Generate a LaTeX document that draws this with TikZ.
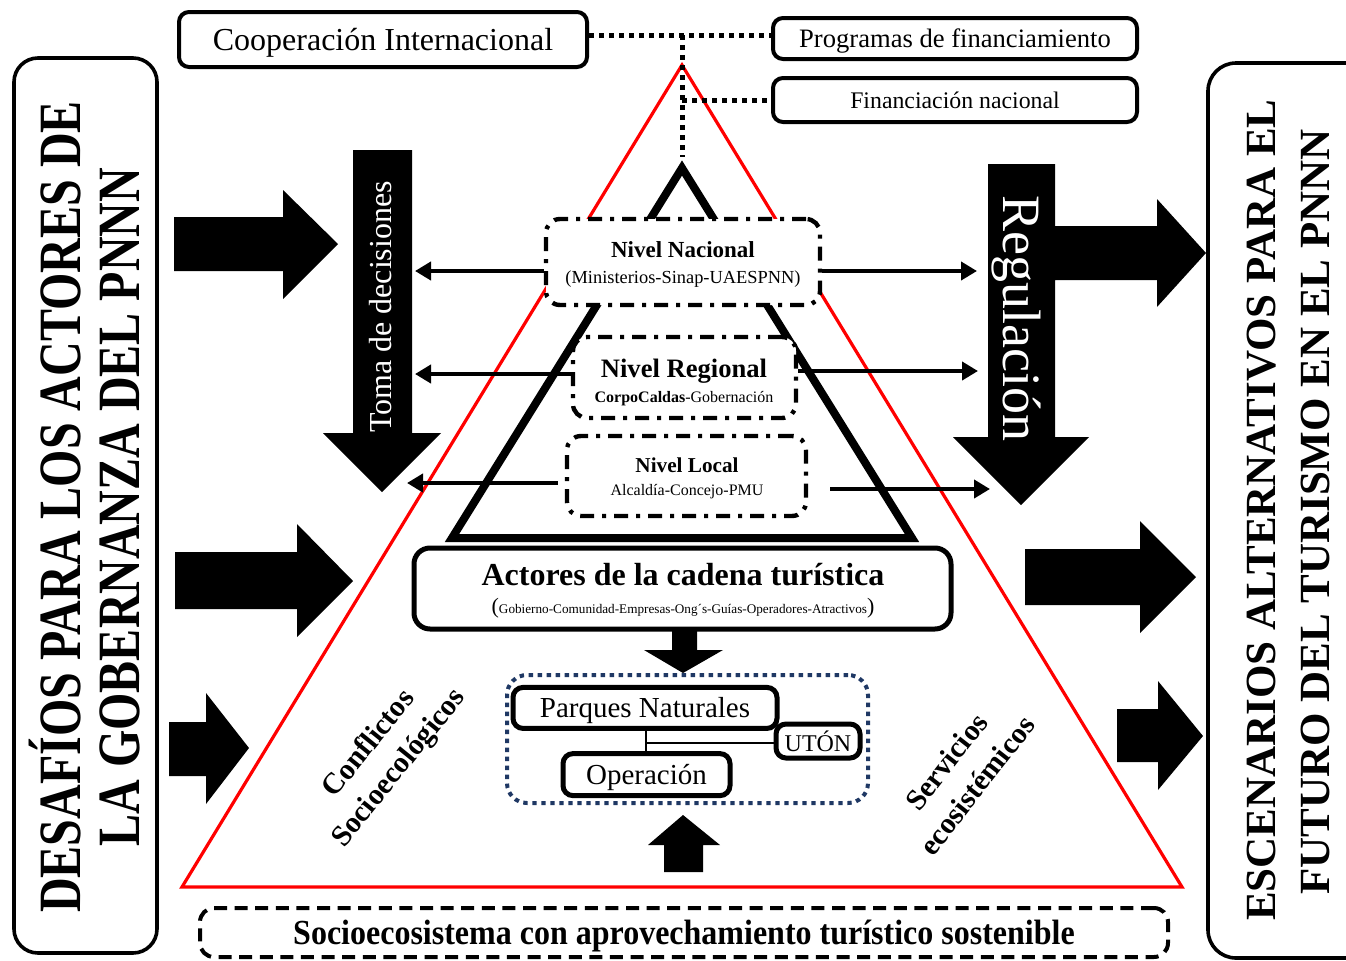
\documentclass[tikz,border=0pt]{standalone}
\usepackage{fontspec}
\setmainfont{Liberation Serif}
\usetikzlibrary{arrows.meta}
\definecolor{navy}{RGB}{31,56,100}
\newcommand\myfs[1]{\fontsize{#1}{#1}\selectfont}

\begin{document}
\begin{tikzpicture}[x=0.5pt,y=-0.5pt,
  box/.style={draw, line width=2pt, rounded corners=5pt, fill=white, inner sep=0pt, text depth=0pt},
  lvl/.style={draw, line width=2.2pt, rounded corners=7pt, fill=white, inner sep=0pt,
              dash pattern=on 7pt off 4pt on 2pt off 4pt},
  dotline/.style={line width=2.5pt, dash pattern=on 2.5pt off 2.5pt},
  harrow/.style={line width=2.3pt, -{Triangle[length=8pt,width=9pt]}},
  frame/.style={draw, line width=1.8pt, inner sep=0pt},
  diag/.style={align=center, inner sep=0pt, font=\bfseries\fontsize{14.8}{19.3}\selectfont},
]
\clip (0,0) rectangle (1346,960);
\fill[white] (0,0) rectangle (1346,960);

% outer red triangle and inner black pyramid
\draw[red, line width=1.6pt, line join=miter] (682,65) -- (1182,887) -- (182,887) -- cycle;
\draw[line width=4pt, line join=miter] (682,168) -- (912,538) -- (452,538) -- cycle;

% block arrows on the left
\fill (174,217) -- (283,217) -- (283,190) -- (338,244) -- (283,299) -- (283,271) -- (174,271) -- cycle;
\fill (175,552) -- (297,552) -- (297,524) -- (353,581) -- (297,637) -- (297,609) -- (175,609) -- cycle;
\fill (169,722) -- (206,722) -- (206,693) -- (249,748) -- (206,804) -- (206,776) -- (169,776) -- cycle;
% block arrows on the right
\fill (1025,549) -- (1140,549) -- (1140,521) -- (1196,577) -- (1140,633) -- (1140,605) -- (1025,605) -- cycle;
\fill (1117,709) -- (1158,709) -- (1158,681) -- (1203,736) -- (1158,790) -- (1158,762) -- (1117,762) -- cycle;

% decision making (downward) arrow
\fill (353,150) -- (412,150) -- (412,433) -- (441,433) -- (382,492) -- (323,433) -- (353,433) -- cycle;
\node[rotate=90, text=white, font=\myfs{16}] (toma) at (381,307) {Toma de decisiones};

% regulation arrow with its branch to the right
\fill (988,164) -- (1055,164) -- (1055,226) -- (1157,226) -- (1157,199) -- (1206,253)
  -- (1157,307) -- (1157,280) -- (1055,280) -- (1055,437) -- (1089,437) -- (1021,505)
  -- (953,437) -- (988,437) -- cycle;
\node[rotate=-90, text=white, font=\myfs{27}] (regul) at (1016,318) {Regulación};

% funding boxes
\node[box, minimum width=204pt, minimum height=27.5pt, font=\myfs{16}] (coop) at (383,39.5) {Cooperación Internacional};
\node[box, minimum width=182pt, minimum height=20.5pt, font=\myfs{13.3}, yshift=-0.5pt] (prog) at (955,37.5) {Programas de financiamiento};
\node[box, minimum width=182pt, minimum height=22pt, font=\myfs{11.9}] (fin) at (955,100) {Financiación nacional};

\coordinate (j1) at (682,35);
\coordinate (j2) at (682,100);
\coordinate (j3) at (682,157);
\draw[dotline] (coop.east |- j1) -- (prog.west |- j1);
\draw[dotline] (j1) -- (j3);
\draw[dotline] (j2) -- (fin.west |- j2);

% government levels
\node[lvl, minimum width=137pt, minimum height=43pt] (nac) at (683,262) {};
\node[anchor=base, font=\bfseries\myfs{11.5}] (nacT) at (683,257) {Nivel Nacional};
\node[anchor=base, font=\myfs{9.2}] (nacS) at (683,283) {(Ministerios-Sinap-UAESPNN)};

\node[lvl, minimum width=111.5pt, minimum height=40.5pt] (reg) at (684.5,377.5) {};
\node[anchor=base, font=\bfseries\myfs{13.3}] (regT) at (684,377) {Nivel Regional};
\node[anchor=base, font=\myfs{8}] (regS) at (684,402) {\textbf{CorpoCaldas}-Gobernación};

\node[lvl, minimum width=119.5pt, minimum height=40pt] (loc) at (686.5,476) {};
\node[anchor=base, font=\bfseries\myfs{10.6}] (locT) at (687,472) {Nivel Local};
\node[anchor=base, font=\myfs{8}] (locS) at (687,495) {Alcaldía-Concejo-PMU};

\coordinate (nacL) at (415,271);
\coordinate (nacR) at (977,271);
\coordinate (regL) at (415,374);
\coordinate (regR) at (978,371);
\coordinate (locL) at (407,483);
\coordinate (locR) at (990,489);
\draw[harrow] (nac.west |- nacL) -- (nacL);
\draw[harrow] (nac.east |- nacR) -- (nacR);
\draw[harrow] (reg.west |- regL) -- (regL);
\draw[harrow] (reg.east |- regR) -- (regR);
\draw[harrow, shorten <=3.5pt] (loc.west |- locL) -- (locL);
\draw[harrow, shorten <=11pt] (loc.east |- locR) -- (locR);

% tourism chain actors
\node[box, line width=2.5pt, rounded corners=8pt, minimum width=268.5pt, minimum height=40.5pt] (actores) at (682.5,588.5) {};
\node[anchor=base, font=\bfseries\myfs{16}] (actT) at (683,585) {Actores de la cadena turística};
\node[anchor=base, font=\myfs{6.6}] (actS) at (683,613) {{\myfs{11}(}Gobierno-Comunidad-Empresas-Ong´s-Guías-Operadores-Atractivos{\myfs{11})}};

\fill (672,630) -- (697,630) -- (697,650) -- (723,650) -- (683,673) -- (644,650) -- (672,650) -- cycle;
\fill (683,815) -- (720,845) -- (703,845) -- (703,872) -- (664,872) -- (664,845) -- (648,845) -- cycle;

% park operation group
\node[draw=navy, line width=2pt, dash pattern=on 2.2pt off 2.3pt, rounded corners=10pt,
      minimum width=180.5pt, minimum height=64pt, inner sep=0pt] (pnnn) at (687.5,739) {};
\node[box, line width=2.5pt, minimum width=132pt, minimum height=20.5pt, font=\myfs{14.5}, yshift=-1.2pt] (parques) at (645,705.5) {Parques Naturales};
\node[box, line width=2.5pt, minimum width=42pt, minimum height=17pt, font=\myfs{12}] (uton) at (818,741) {UTÓN};
\node[box, line width=2.5pt, minimum width=83.5pt, minimum height=21pt, font=\myfs{14.5}, yshift=-0.8pt] (oper) at (646.5,773) {Operación};
\coordinate (jn) at (646,743);
\draw[line width=1.2pt] (parques.south -| jn) -- (oper.north -| jn);
\draw[line width=1.2pt] (jn) -- (uton.west |- jn);

% diagonal labels
\node[diag, rotate=51] (conf) at (384.5,756.5) {Conflictos\\Socioecológicos};
\node[diag, rotate=52] (serv) at (961.5,773.5) {Servicios\\ecosistémicos};

% bottom banner
\node[draw, line width=2pt, rounded corners=7pt, dash pattern=on 6.5pt off 3.8pt, inner sep=0pt, text depth=0pt,
      minimum width=484pt, minimum height=24.5pt, font=\bfseries\myfs{16}] (socio) at (684,932.5)
      {\scalebox{1}[1.1]{Socioecosistema con aprovechamiento turístico sostenible}};

% side frames
\node[frame, rounded corners=12pt, minimum width=71.5pt, minimum height=447.5pt] (desafios) at (85.5,505.5) {};
\node[rotate=90, font=\bfseries\myfs{30}] (des1) at (55,507) {\scalebox{0.8}[1]{DESAFÍOS PARA LOS ACTORES DE}};
\node[rotate=90, font=\bfseries\myfs{30}] (des2) at (120,507) {\scalebox{0.8}[1]{LA GOBERNANZA DEL PNNN}};

\node[frame, rounded corners=14pt, minimum width=96pt, minimum height=447.5pt] (escen) at (1304,510.5) {};
\node[rotate=90, font=\bfseries\myfs{21.5}] (esc1) at (1262,510) {ESCENARIOS ALTERNATIVOS PARA EL};
\node[rotate=90, font=\bfseries\myfs{21.5}] (esc2) at (1315,512) {FUTURO DEL TURISMO EN EL PNNN};
\end{tikzpicture}
\end{document}
